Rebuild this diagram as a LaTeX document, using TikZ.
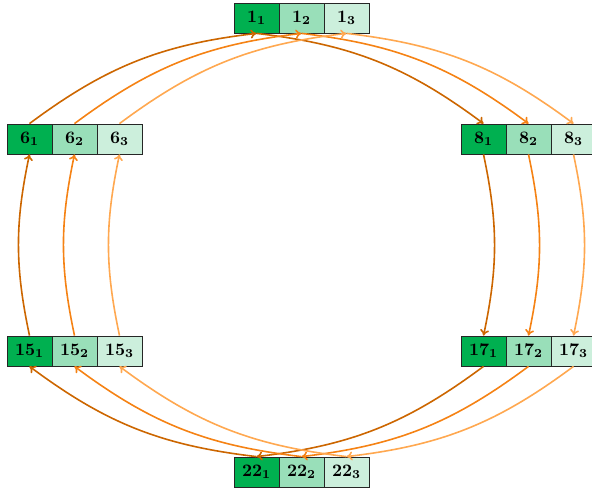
\documentclass[tikz,border=0pt]{standalone}
\usepackage{graphicx}
\usetikzlibrary{arrows.meta}
\definecolor{g1}{RGB}{0,176,80}
\definecolor{g2}{RGB}{153,223,185}
\definecolor{g3}{RGB}{204,239,220}
\definecolor{o1}{RGB}{204,102,0}
\definecolor{o2}{RGB}{245,130,20}
\definecolor{o3}{RGB}{255,168,80}
\newcommand\celltxt[2]{\scalebox{1.75}{\boldmath$#1_{#2}$}}
\tikzset{
  cell/.style={draw=black!85, line width=0.8pt, minimum width=45pt, minimum height=30pt, inner sep=0pt},
  ca/.style={cell, fill=g1},
  cb/.style={cell, fill=g2},
  cc/.style={cell, fill=g3},
  arr/.style={line width=1.6pt, -{To[length=6pt,width=9pt]}},
  aa/.style={arr, draw=o1},
  ab/.style={arr, draw=o2},
  ac/.style={arr, draw=o3},
}
\begin{document}
\begin{tikzpicture}[x=1pt,y=-1pt]
\useasboundingbox (0,0) rectangle (592,490);
\clip (0,0) rectangle (592,490);
% top
\node[ca] (n1a) at (256.5,18) {\celltxt{1}{1}};
\node[cb] (n1b) at (301.5,18) {\celltxt{1}{2}};
\node[cc] (n1c) at (346.5,18) {\celltxt{1}{3}};
% left upper
\node[ca] (n6a) at (29.5,139) {\celltxt{6}{1}};
\node[cb] (n6b) at (74.5,139) {\celltxt{6}{2}};
\node[cc] (n6c) at (119.5,139) {\celltxt{6}{3}};
% right upper
\node[ca] (n8a) at (483.5,139) {\celltxt{8}{1}};
\node[cb] (n8b) at (528.5,139) {\celltxt{8}{2}};
\node[cc] (n8c) at (573.5,139) {\celltxt{8}{3}};
% left lower
\node[ca] (n15a) at (29.5,351) {\celltxt{15}{1}};
\node[cb] (n15b) at (74.5,351) {\celltxt{15}{2}};
\node[cc] (n15c) at (119.5,351) {\celltxt{15}{3}};
% right lower
\node[ca] (n17a) at (483.5,351) {\celltxt{17}{1}};
\node[cb] (n17b) at (528.5,351) {\celltxt{17}{2}};
\node[cc] (n17c) at (573.5,351) {\celltxt{17}{3}};
% bottom
\node[ca] (n22a) at (256.5,472) {\celltxt{22}{1}};
\node[cb] (n22b) at (301.5,472) {\celltxt{22}{2}};
\node[cc] (n22c) at (346.5,472) {\celltxt{22}{3}};
% arrows
\foreach \s/\st in {a/aa,b/ab,c/ac}{
  \draw[\st] (n6\s.north) to[bend left=15] (n1\s.south);
  \draw[\st] (n1\s.south) to[bend left=15] (n8\s.north);
  \draw[\st] (n8\s.south) to[bend left=12] (n17\s.north);
  \draw[\st] (n17\s.south) to[bend left=15] (n22\s.north);
  \draw[\st] (n22\s.north) to[bend left=15] (n15\s.south);
  \draw[\st] (n15\s.north) to[bend left=12] (n6\s.south);
}
\end{tikzpicture}
\end{document}
